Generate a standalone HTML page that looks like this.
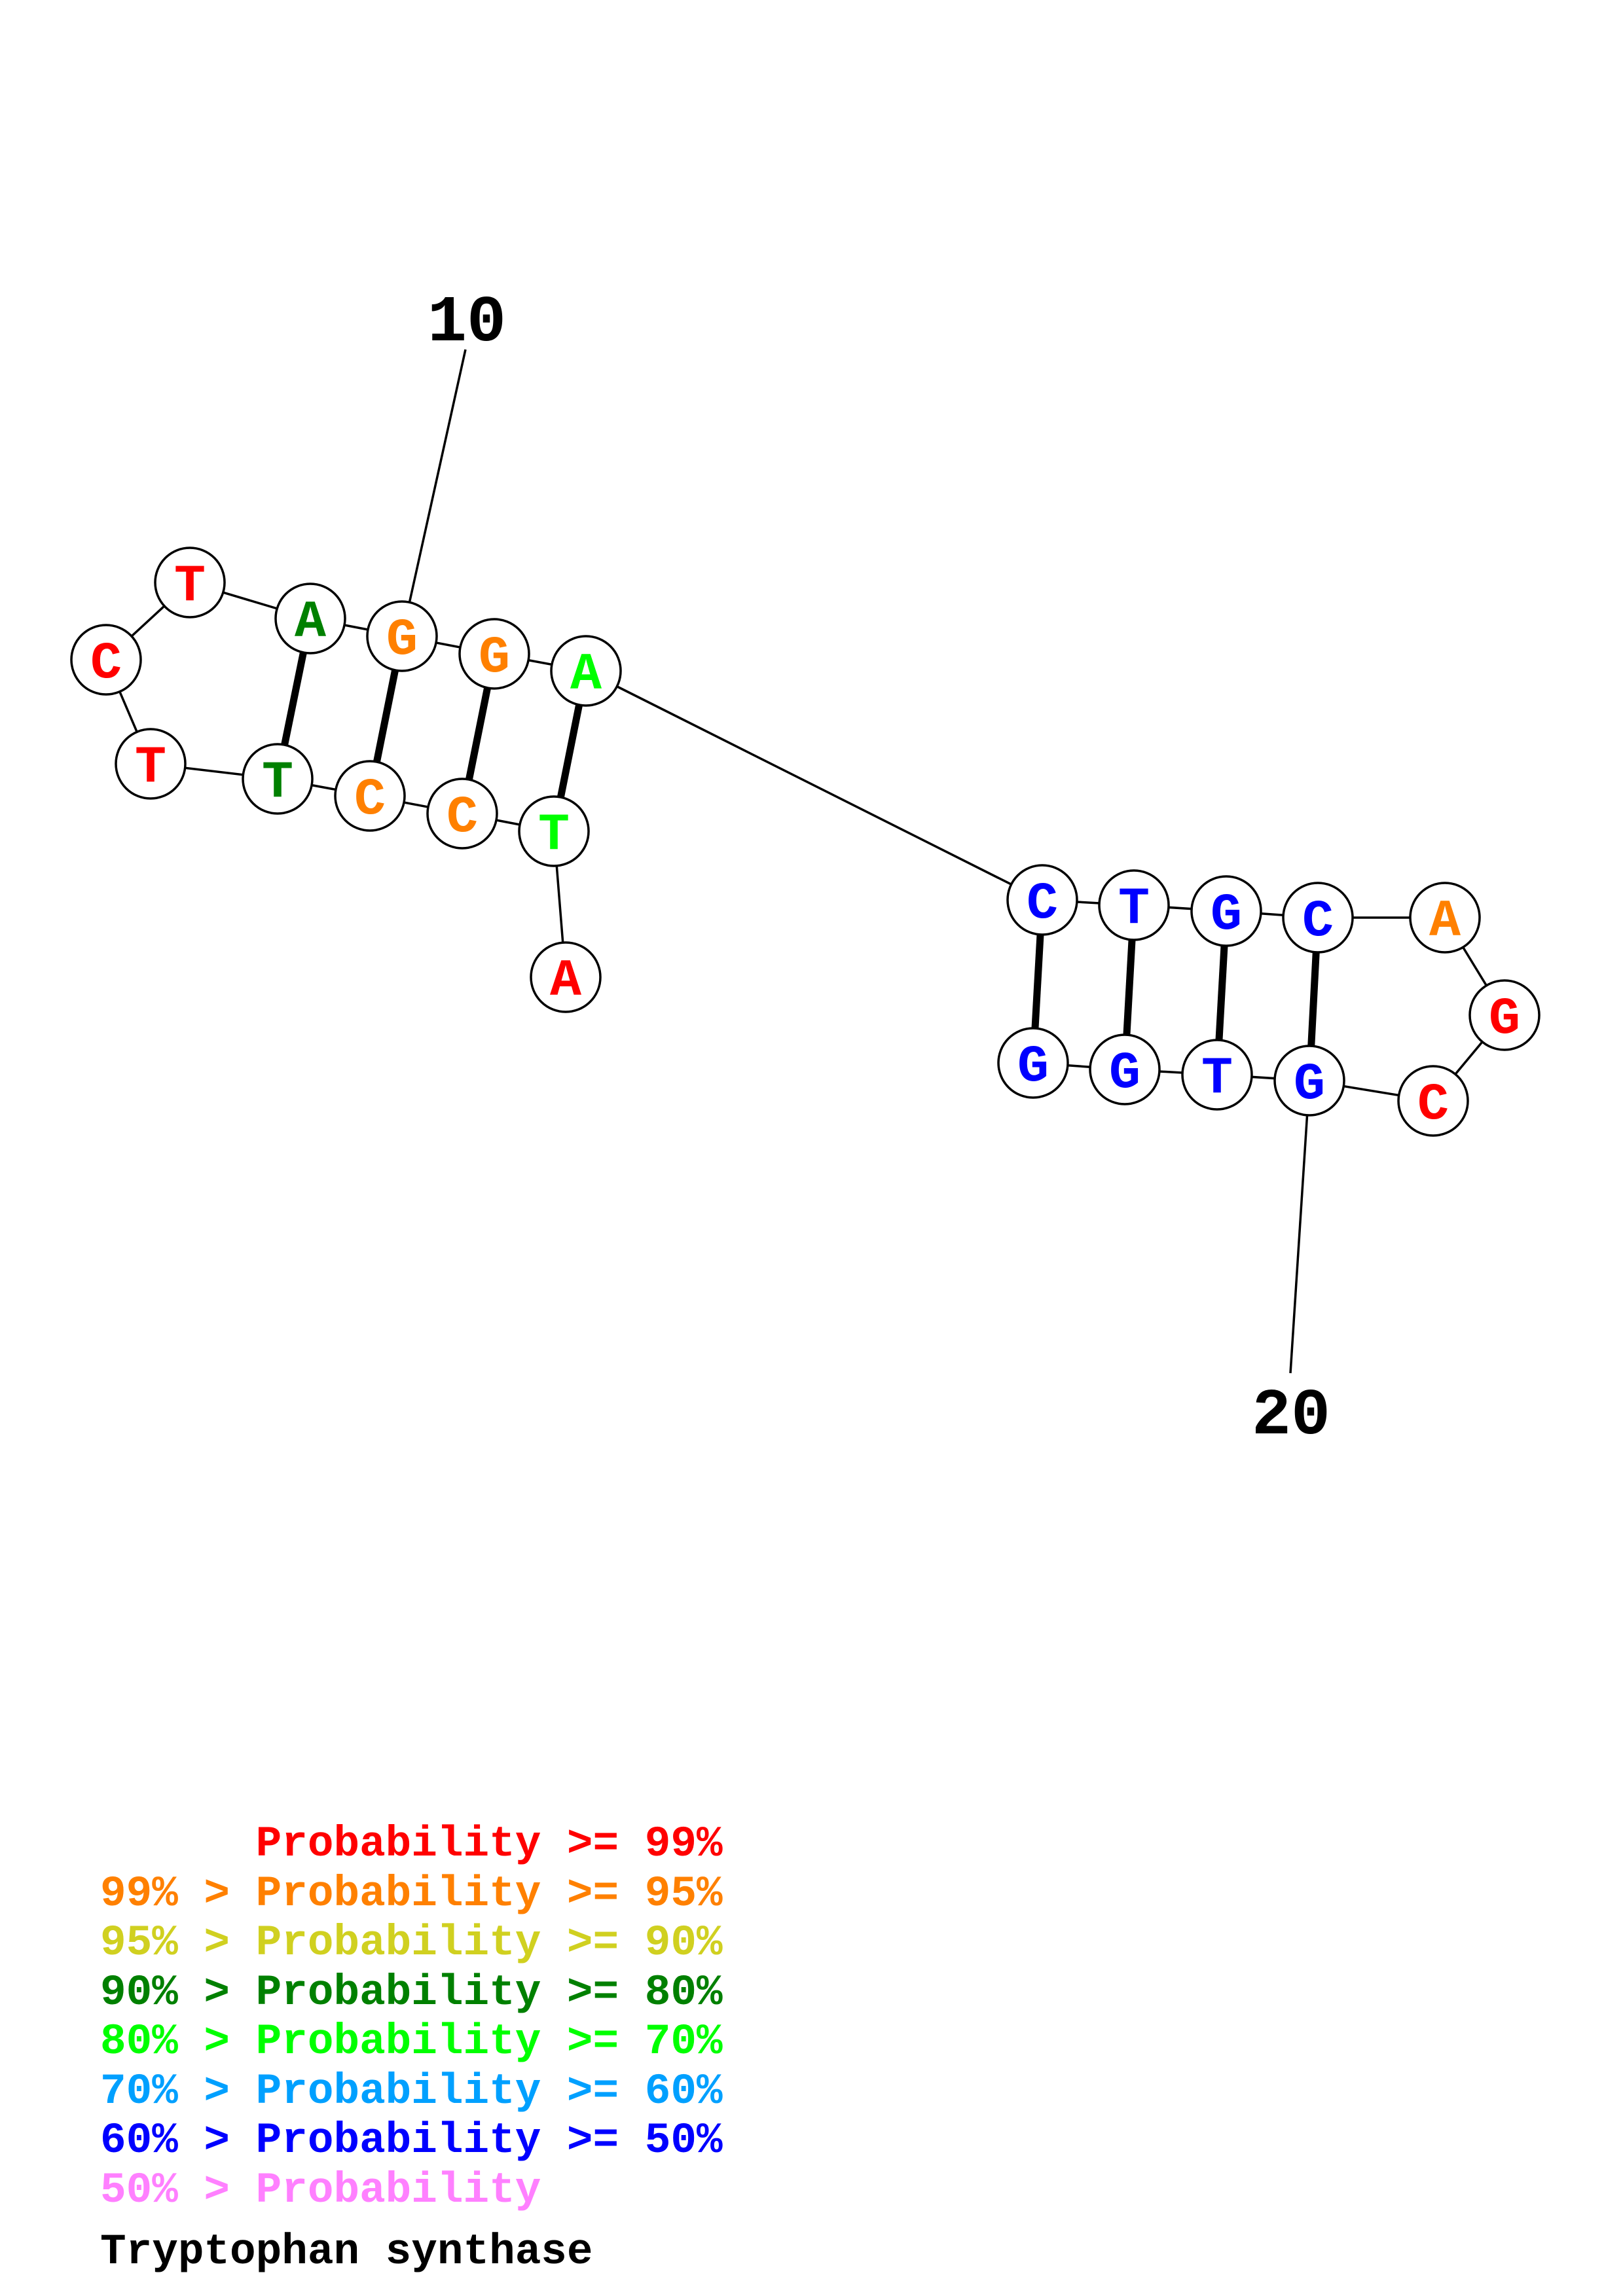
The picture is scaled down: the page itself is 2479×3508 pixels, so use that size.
<!DOCTYPE html>
<html><head><meta charset="utf-8"><style>
html,body{margin:0;padding:0;background:#fff;}
svg{display:block;}
text{font-family:"Liberation Mono",monospace;font-weight:bold;}
</style></head><body>
<svg width="2479" height="3508" viewBox="0 0 2479 3508" xmlns="http://www.w3.org/2000/svg">
<rect width="2479" height="3508" fill="#fff"/>
<g stroke="#000" stroke-width="3.5" fill="none">
<line x1="290" y1="890" x2="162" y2="1008"/>
<line x1="162" y1="1008" x2="230" y2="1167"/>
<line x1="230" y1="1167" x2="424" y2="1190"/>
<line x1="424" y1="1190" x2="565" y2="1216"/>
<line x1="565" y1="1216" x2="706" y2="1243"/>
<line x1="706" y1="1243" x2="846" y2="1270"/>
<line x1="846" y1="1270" x2="864" y2="1493"/>
<line x1="290" y1="890" x2="474" y2="945"/>
<line x1="474" y1="945" x2="614" y2="972"/>
<line x1="614" y1="972" x2="755" y2="999"/>
<line x1="755" y1="999" x2="895" y2="1025"/>
<line x1="895" y1="1025" x2="1592" y2="1375"/>
<line x1="614" y1="972" x2="711" y2="534"/>
<line x1="1592" y1="1375" x2="1732" y2="1383"/>
<line x1="1732" y1="1383" x2="1873" y2="1392"/>
<line x1="1873" y1="1392" x2="2013" y2="1402"/>
<line x1="2013" y1="1402" x2="2207" y2="1402"/>
<line x1="2207" y1="1402" x2="2298" y2="1551"/>
<line x1="2298" y1="1551" x2="2189" y2="1682"/>
<line x1="2189" y1="1682" x2="2000" y2="1651"/>
<line x1="2000" y1="1651" x2="1859" y2="1642"/>
<line x1="1859" y1="1642" x2="1718" y2="1634"/>
<line x1="1718" y1="1634" x2="1578" y2="1624"/>
<line x1="2000" y1="1651" x2="1971" y2="2098"/>
</g>
<g stroke="#000" stroke-width="11">
<line x1="474" y1="945" x2="424" y2="1190"/>
<line x1="614" y1="972" x2="565" y2="1216"/>
<line x1="755" y1="999" x2="706" y2="1243"/>
<line x1="895" y1="1025" x2="846" y2="1270"/>
<line x1="1592" y1="1375" x2="1578" y2="1624"/>
<line x1="1732" y1="1383" x2="1718" y2="1634"/>
<line x1="1873" y1="1392" x2="1859" y2="1642"/>
<line x1="2013" y1="1402" x2="2000" y2="1651"/>
</g>
<g stroke="#000" stroke-width="3.5" fill="#fff">
<circle cx="290" cy="890" r="53"/><circle cx="162" cy="1008" r="53"/><circle cx="230" cy="1167" r="53"/>
<circle cx="474" cy="945" r="53"/><circle cx="614" cy="972" r="53"/><circle cx="755" cy="999" r="53"/><circle cx="895" cy="1025" r="53"/>
<circle cx="424" cy="1190" r="53"/><circle cx="565" cy="1216" r="53"/><circle cx="706" cy="1243" r="53"/><circle cx="846" cy="1270" r="53"/>
<circle cx="864" cy="1493" r="53"/>
<circle cx="1592" cy="1375" r="53"/><circle cx="1732" cy="1383" r="53"/><circle cx="1873" cy="1392" r="53"/><circle cx="2013" cy="1402" r="53"/>
<circle cx="2207" cy="1402" r="53"/><circle cx="2298" cy="1551" r="53"/><circle cx="2189" cy="1682" r="53"/>
<circle cx="2000" cy="1651" r="53"/><circle cx="1859" cy="1642" r="53"/><circle cx="1718" cy="1634" r="53"/><circle cx="1578" cy="1624" r="53"/>
</g>
<g font-size="80" text-anchor="middle">
<text x="290" y="917" fill="#ff0000">T</text>
<text x="162" y="1035" fill="#ff0000">C</text>
<text x="230" y="1194" fill="#ff0000">T</text>
<text x="474" y="972" fill="#008000">A</text>
<text x="614" y="999" fill="#ff8000">G</text>
<text x="755" y="1026" fill="#ff8000">G</text>
<text x="895" y="1052" fill="#00ff00">A</text>
<text x="424" y="1217" fill="#008000">T</text>
<text x="565" y="1243" fill="#ff8000">C</text>
<text x="706" y="1270" fill="#ff8000">C</text>
<text x="846" y="1297" fill="#00ff00">T</text>
<text x="864" y="1520" fill="#ff0000">A</text>
<text x="1592" y="1402" fill="#0000ff">C</text>
<text x="1732" y="1410" fill="#0000ff">T</text>
<text x="1873" y="1419" fill="#0000ff">G</text>
<text x="2013" y="1429" fill="#0000ff">C</text>
<text x="2207" y="1429" fill="#ff8000">A</text>
<text x="2298" y="1578" fill="#ff0000">G</text>
<text x="2189" y="1709" fill="#ff0000">C</text>
<text x="2000" y="1678" fill="#0000ff">G</text>
<text x="1859" y="1669" fill="#0000ff">T</text>
<text x="1718" y="1661" fill="#0000ff">G</text>
<text x="1578" y="1651" fill="#0000ff">G</text>
</g>
<g font-size="100" text-anchor="middle" fill="#000">
<text x="713" y="520">10</text>
<text x="1972" y="2190">20</text>
</g>
<g font-size="66">
<text x="153" y="2835" fill="#ff0000" xml:space="preserve">      Probability &gt;= 99%</text>
<text x="153" y="2911" fill="#ff8000">99% &gt; Probability &gt;= 95%</text>
<text x="153" y="2986" fill="#d0d020">95% &gt; Probability &gt;= 90%</text>
<text x="153" y="3062" fill="#008000">90% &gt; Probability &gt;= 80%</text>
<text x="153" y="3137" fill="#00ff00">80% &gt; Probability &gt;= 70%</text>
<text x="153" y="3213" fill="#00a0ff">70% &gt; Probability &gt;= 60%</text>
<text x="153" y="3288" fill="#0000ff">60% &gt; Probability &gt;= 50%</text>
<text x="153" y="3364" fill="#ff80ff">50% &gt; Probability</text>
<text x="153" y="3458" fill="#000">Tryptophan synthase</text>
</g>
</svg>
</body></html>
